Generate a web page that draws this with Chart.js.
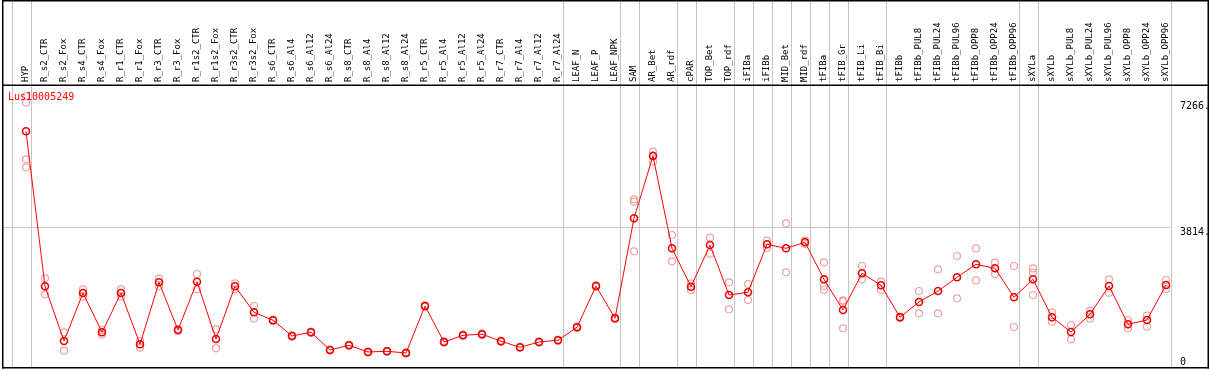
<!DOCTYPE html>
<html>
<head>
<meta charset="utf-8">
<script src="https://cdn.jsdelivr.net/npm/chart.js@4.4.1/dist/chart.umd.min.js"></script>
<style>
  html, body { margin: 0; padding: 0; background: #fff; }
</style>
</head>
<body>
<canvas id="grafico" width="1209" height="370"></canvas>
<script>
const geneName = "Lus10005249";

const categories = [
  "HYP", "R_s2_CTR", "R_s2_Fox", "R_s4_CTR", "R_s4_Fox", "R_r1_CTR", "R_r1_Fox", "R_r3_CTR", "R_r3_Fox",
  "R_r1s2_CTR", "R_r1s2_Fox", "R_r3s2_CTR", "R_r3s2_Fox", "R_s6_CTR", "R_s6_Al4", "R_s6_Al12", "R_s6_Al24",
  "R_s8_CTR", "R_s8_Al4", "R_s8_Al12", "R_s8_Al24", "R_r5_CTR", "R_r5_Al4", "R_r5_Al12", "R_r5_Al24",
  "R_r7_CTR", "R_r7_Al4", "R_r7_Al12", "R_r7_Al24", "LEAF_N", "LEAF_P", "LEAF_NPK", "SAM", "AR_Bet", "AR_rdf",
  "cPAR", "TOP_Bet", "TOP_rdf", "iFIBa", "iFIBb", "MID_Bet", "MID_rdf", "tFIBa", "tFIB_Gr", "tFIB_Li", "tFIB_Bi",
  "tFIBb", "tFIBb_PUL8", "tFIBb_PUL24", "tFIBb_PUL96", "tFIBb_OPP8", "tFIBb_OPP24", "tFIBb_OPP96",
  "sXYLa", "sXYLb", "sXYLb_PUL8", "sXYLb_PUL24", "sXYLb_PUL96", "sXYLb_OPP8", "sXYLb_OPP24", "sXYLb_OPP96"
];

// mean expression per sample
const means = [
  6457, 2211, 712, 2027, 951, 2027, 622, 2321, 1014, 2337,
  767, 2211, 1499, 1282, 849, 953, 466, 595, 411, 430,
  384, 1671, 685, 868, 899, 707, 540, 685, 734, 1090,
  2219, 1334, 4074, 5781, 3252, 2200, 3342, 1973, 2047, 3362,
  3252, 3416, 2403, 1562, 2567, 2238, 1362, 1781, 2082, 2457,
  2814, 2704, 1910, 2403, 1362, 959, 1444, 2219, 1170, 1288,
  2247
];

// individual replicates per sample
const replicates = [
  [7425, 7241, 5690, 5471], [2430, 1992], [951, 447], [2129, 1926], [1014, 885],
  [2129, 1926], [712, 529], [2430, 2211], [1041, 986], [2548, 2129],
  [1033, 512], [2293, 2129], [1671, 1323], [1300, 1260], [870, 830],
  [970, 935], [480, 450], [610, 580], [425, 400], [445, 415],
  [400, 370], [1690, 1650], [700, 670], [885, 850], [915, 880],
  [725, 690], [555, 525], [700, 670], [750, 720], [1110, 1070],
  [2240, 2200], [1350, 1315], [4595, 4529, 3170], [5899, 5625, 5800], [3616, 2896],
  [2293, 2110], [3542, 3104], [2321, 1581], [2274, 1836], [3460, 3260],
  [3937, 2594], [3460, 3370], [2868, 2219, 2110], [1827, 1800, 1060], [2767, 2403],
  [2337, 2110], [1380, 1345], [2082, 1471], [2677, 1471], [3041, 1882],
  [3252, 2375], [2858, 2548], [2767, 1096], [2704, 2584, 1973], [1499, 1241],
  [1151, 759], [1542, 1323], [2403, 2036], [1288, 1060], [1405, 1104],
  [2384, 2129]
];

const yTicks = [0, 3814, 7266];
// group separators, drawn just after these sample indexes
const groupBreaks = [-1, 0, 28, 31, 32, 34, 35, 37, 38, 39, 40, 41, 42, 43, 45, 52, 53, 60];

const mono = '"DejaVu Sans Mono", "Liberation Mono", monospace';

const framePlugin = {
  id: "frame",
  beforeDatasetsDraw(chart) {
    const ctx = chart.ctx;
    const x = chart.scales.x;
    ctx.save();
    ctx.strokeStyle = "#c4c4c4";
    ctx.lineWidth = 1;
    groupBreaks.forEach(b => {
      const px = Math.round(x.getPixelForValue(b + 0.25)) + 0.5;
      ctx.beginPath();
      ctx.moveTo(px, 0);
      ctx.lineTo(px, chart.chartArea.bottom);
      ctx.stroke();
    });
    ctx.restore();
  },
  afterDraw(chart) {
    const ctx = chart.ctx;
    ctx.save();
    ctx.fillStyle = "#000";
    ctx.fillRect(2, 0, 1207, 1.5);
    ctx.fillRect(2, 84.5, 1207, 1.5);
    ctx.fillRect(2, 367, 1207, 1.5);
    ctx.fillRect(2, 0, 1.5, 368.5);
    ctx.fillRect(1207.5, 0, 1.5, 368.5);
    ctx.fillStyle = "#ff0000";
    ctx.font = "10px " + mono;
    ctx.textBaseline = "middle";
    ctx.fillText(geneName, 8, 97);
    ctx.restore();
  }
};

const repPoints = [];
replicates.forEach((reps, i) => reps.forEach(v => repPoints.push({ x: i, y: v })));

new Chart(document.getElementById("grafico"), {
  type: "line",
  data: {
    datasets: [
      {
        label: geneName,
        data: means.map((v, i) => ({ x: i, y: v })),
        borderColor: "#ff0000",
        borderWidth: 1,
        pointRadius: 3.5,
        pointBorderColor: "#e80000",
        pointBorderWidth: 1.6,
        pointBackgroundColor: "rgba(0,0,0,0)",
        clip: false,
        order: 0
      },
      {
        label: "replicates",
        data: repPoints,
        showLine: false,
        pointRadius: 3.5,
        pointBorderColor: "#eea2a2",
        pointBorderWidth: 1.2,
        pointBackgroundColor: "rgba(0,0,0,0)",
        clip: false,
        order: 1
      }
    ]
  },
  options: {
    responsive: false,
    animation: false,
    devicePixelRatio: 1,
    layout: { autoPadding: false, padding: { left: 2, right: 0, top: 0, bottom: 3 } },
    plugins: { legend: { display: false }, tooltip: { enabled: false } },
    scales: {
      x: {
        type: "linear",
        position: "top",
        min: -24 / 19,
        max: 1144 / 19,
        afterBuildTicks: axis => { axis.ticks = categories.map((c, i) => ({ value: i })); },
        afterFit: axis => {
          axis.height = 85;
          axis.paddingLeft = 0;
          axis.paddingRight = 0;
        },
        ticks: {
          autoSkip: false,
          minRotation: 90,
          maxRotation: 90,
          padding: 3,
          labelOffset: 10,
          color: "#000",
          font: { family: mono, size: 9 },
          callback: v => categories[v]
        },
        grid: { display: false, drawTicks: false },
        border: { display: false }
      },
      y: {
        position: "right",
        min: 0,
        max: 7726,
        afterBuildTicks: axis => { axis.ticks = yTicks.map(v => ({ value: v })); },
        afterFit: axis => {
          axis.width = 39;
          axis.paddingTop = 0;
          axis.paddingBottom = 0;
        },
        ticks: {
          autoSkip: false,
          padding: 10,
          labelOffset: 5,
          color: "#000",
          font: { family: mono, size: 10, lineHeight: 1 },
          callback: v => v === 0 ? ["0", "", ""] : v + "."
        },
        grid: {
          drawTicks: false,
          color: c => (c.tick && c.tick.value === 3814) ? "#c4c4c4" : "rgba(0,0,0,0)"
        },
        border: { display: false }
      }
    }
  },
  plugins: [framePlugin]
});
</script>
</body>
</html>
